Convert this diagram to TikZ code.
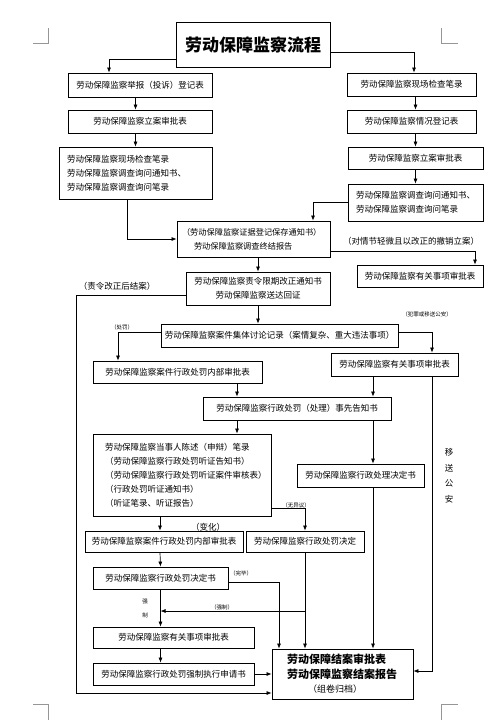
\documentclass[tikz,border=0pt]{standalone}
\usepackage{fontspec}
\usepackage{tikz}
\usetikzlibrary{arrows.meta}
\newfontfamily\cjk{Noto Sans CJK SC}
\definecolor{markgray}{RGB}{150,150,150}
\tikzset{
  formbox/.style={rectangle, draw=black, fill=white, line width=0.8pt, inner sep=0pt, font=\cjk\fontsize{8.5}{14}\selectfont},
  listbox/.style={formbox, align=left, inner xsep=8pt},
  titlebox/.style={formbox, line width=1pt, font=\cjk\bfseries\fontsize{17}{20}\selectfont},
  finalbox/.style={formbox, align=left, inner xsep=15pt, font=\cjk\bfseries\fontsize{11}{14.5}\selectfont},
  flow/.style={-{Latex[length=5pt,width=4pt]}, line width=0.7pt},
  note/.style={font=\cjk\fontsize{8.5}{10}\selectfont, inner sep=0pt},
  tinynote/.style={font=\cjk\fontsize{5.5}{7}\selectfont, inner sep=0pt},
  cropmark/.style={markgray, line width=0.6pt}
}
\begin{document}
\begin{tikzpicture}[x=1pt,y=-1pt]
  \fill[white] (0,0) rectangle (500,720);
  \useasboundingbox (0,0) rectangle (500,720);
  % page corners
  \draw[cropmark] (33,43) -- (48,43) -- (48,28);
  \draw[cropmark] (458,43) -- (441,43) -- (441,28);
  \draw[cropmark] (33,704) -- (48,704) -- (48,720);
  \draw[cropmark] (458,704) -- (441,704) -- (441,720);

  \node[titlebox, minimum width=154pt, minimum height=45pt] (title) at (253,44.5) {劳动保障监察流程};

  % left column
  \node[formbox, minimum width=144pt, minimum height=24pt] (jbdj) at (140,85) {劳动保障监察举报（投诉）登记表};
  \node[formbox, minimum width=144pt, minimum height=23pt] (lasp) at (140,121.5) {劳动保障监察立案审批表};
  \node[listbox, text width=137pt, minimum height=52pt] (xcjc) at (135.5,173) {劳动保障监察现场检查笔录\\劳动保障监察调查询问通知书、\\劳动保障监察调查询问笔录};

  % right column
  \node[formbox, minimum width=129pt, minimum height=23pt] (xcbl) at (411.5,84.5) {劳动保障监察现场检查笔录};
  \node[formbox, minimum width=129pt, minimum height=23pt] (qkdj) at (411.5,121.5) {劳动保障监察情况登记表};
  \node[formbox, minimum width=135pt, minimum height=22pt] (lasp2) at (415.5,158) {劳动保障监察立案审批表};
  \node[listbox, text width=119pt, minimum height=37pt] (dcxw) at (415.5,202.5) {劳动保障监察调查询问通知书、\\劳动保障监察调查询问笔录};

  % investigation and discussion
  \node[listbox, text width=143pt, inner xsep=5pt, minimum height=36pt, font=\cjk\fontsize{8.2}{14}\selectfont] (zjbg) at (253.5,239) {（劳动保障监察证据登记保存通知书）\\\hspace*{12pt}劳动保障监察调查终结报告};
  \node[formbox, minimum width=126pt, minimum height=22pt] (cxsp) at (420,276) {劳动保障监察有关事项审批表};
  \node[formbox, align=center, minimum width=144pt, minimum height=33pt] (zlgz) at (258,288.5) {劳动保障监察责令限期改正通知书\\劳动保障监察送达回证};
  \node[formbox, minimum width=237pt, minimum height=23pt] (jtll) at (279.5,335.5) {劳动保障监察案件集体讨论记录（案情复杂、重大违法事项）};
  \node[formbox, minimum width=169pt, minimum height=22pt] (nbsp) at (177.5,372) {劳动保障监察案件行政处罚内部审批表};
  \node[formbox, minimum width=127pt, minimum height=23pt] (ysgs) at (394.5,364.5) {劳动保障监察有关事项审批表};
  \node[formbox, minimum width=188pt, minimum height=23pt] (gzs) at (297,408.5) {劳动保障监察行政处罚（处理）事先告知书};

  % hearing and decision
  \node[listbox, text width=154pt, inner xsep=12pt, minimum height=82pt] (tz) at (182,475) {劳动保障监察当事人陈述（申辩）笔录\\（劳动保障监察行政处罚听证告知书）\\（劳动保障监察行政处罚听证案件审核表）\\（行政处罚听证通知书）\\（听证笔录、听证报告）};
  \node[formbox, minimum width=127pt, minimum height=23pt] (cljd) at (360.5,475.5) {劳动保障监察行政处理决定书};
  \node[formbox, minimum width=158pt, minimum height=21pt] (nbsp2) at (164,541.5) {劳动保障监察案件行政处罚内部审批表};
  \node[formbox, minimum width=118pt, minimum height=21pt] (cfjd) at (305,541.5) {劳动保障监察行政处罚决定};
  \node[formbox, minimum width=135pt, minimum height=22pt] (jds) at (160.5,578) {劳动保障监察行政处罚决定书};
  \node[formbox, minimum width=161pt, minimum height=21pt] (ysgs2) at (173.5,637.5) {劳动保障监察有关事项审批表};
  \node[formbox, minimum width=161pt, minimum height=22pt] (qzzx) at (173.5,674) {劳动保障监察行政处罚强制执行申请书};
  \node[finalbox, text width=111pt, minimum height=50pt] (jaba) at (342.5,674) {劳动保障结案审批表\\劳动保障监察结案报告\\\hspace*{21pt}{\mdseries\fontsize{9}{16}\selectfont（组卷归档）}};

  % labels
  \node[note] (chlbl) at (411,241) {（对情节轻微且以改正的撤销立案）};
  \node[note] (gzlbl) at (117,286) {（责令改正后结案）};
  \node[tinynote] (cflbl) at (122,327) {（处罚）};
  \node[tinynote] (galbl) at (427,314) {（犯罪或移送公安）};
  \node[note, align=center, font=\cjk\fontsize{8.5}{15.5}\selectfont] (ysga) at (449,476) {移\\送\\公\\安};
  \node[tinynote] (wylbl) at (296,505) {（无异议）};
  \node[note] (bhlbl) at (208,527) {（变化）};
  \node[tinynote] (wblbl) at (241,573) {（完毕）};
  \node[tinynote] (qzlbl) at (222,607) {（强制）};
  \node[tinynote, align=center, font=\cjk\fontsize{5.5}{14}\selectfont] (qzv) at (145,609) {强\\制};

  % connectors
  \draw[flow] ([yshift=-14.5pt]title.west) -| ([xshift=-31pt]jbdj.north);
  \draw[flow] ([yshift=-7.5pt]title.east) -| ([xshift=2.5pt]xcbl.north);
  \draw[flow] (jbdj.south -| xcjc) -- (lasp.north -| xcjc);
  \draw[flow] (lasp.south -| xcjc) -- (xcjc.north);
  \draw[flow] (xcbl.south -| lasp2) -- (qkdj.north -| lasp2);
  \draw[flow] (qkdj.south -| lasp2) -- (lasp2.north);
  \draw[flow] (lasp2.south) -- (dcxw.north);
  \draw[flow] ([xshift=-8.5pt]xcjc.south) |- (zjbg.west);
  \draw[flow] (dcxw.west) -| ([xshift=59.5pt]zjbg.north);
  \draw[flow] ([yshift=-12pt]zjbg.east) -| ([xshift=55pt]cxsp.north);
  \draw[flow] (zlgz.north |- zjbg.south) -- (zlgz.north);
  \coordinate (hjt) at (76,693);
  \draw[flow] ([yshift=-6.5pt]zlgz.west) -| (hjt) -- ([yshift=-19pt]jaba.west);
  \draw[flow] (zlgz.south) -- (zlgz.south |- jtll.north);
  \draw[flow] ([yshift=3.5pt]jtll.west) -| ([xshift=-59.5pt]nbsp.north);
  \draw[flow] ([yshift=3.5pt]jtll.east) -| ([xshift=37.5pt]ysgs.north);
  \draw[flow] ([xshift=59.5pt]nbsp.south) -- ([xshift=-60pt]gzs.north);
  \draw[flow] ([xshift=-21.5pt]ysgs.south) -- ([xshift=76pt]gzs.north);
  \draw[flow] ([xshift=37.5pt]ysgs.south) |- ([yshift=3pt]jaba.east);
  \draw[flow] ([xshift=-60pt]gzs.south) -- ([xshift=55pt]tz.north);
  \draw[flow] ([xshift=76pt]gzs.south) -- ([xshift=12.5pt]cljd.north);
  \draw[flow] ([xshift=12.5pt]cljd.south) -- ([xshift=30.5pt]jaba.north);
  \draw[flow] ([xshift=-22pt]tz.south) -- ([xshift=-4pt]nbsp2.north);
  \draw[flow] ([yshift=-33pt]tz.east) -| (cfjd.north);
  \draw[flow] ([xshift=-4pt]nbsp2.south) -- (jds.north);
  \draw[flow] (cfjd.south) -- ([xshift=-37.5pt]jaba.north);
  \draw[flow] ([yshift=-4pt]jds.east) -| ([xshift=-63.5pt]jaba.north);
  \coordinate (qz) at (305,611);
  \draw[flow] (qz) -- (qz -| jds.south);
  \draw[flow] (jds.south) -- ([xshift=-13pt]ysgs2.north);
  \draw[flow] ([xshift=-13pt]ysgs2.south) -- ([xshift=-13pt]qzzx.north);
  \draw[flow] (qzzx.east) -- (jaba.west);
\end{tikzpicture}
\end{document}
